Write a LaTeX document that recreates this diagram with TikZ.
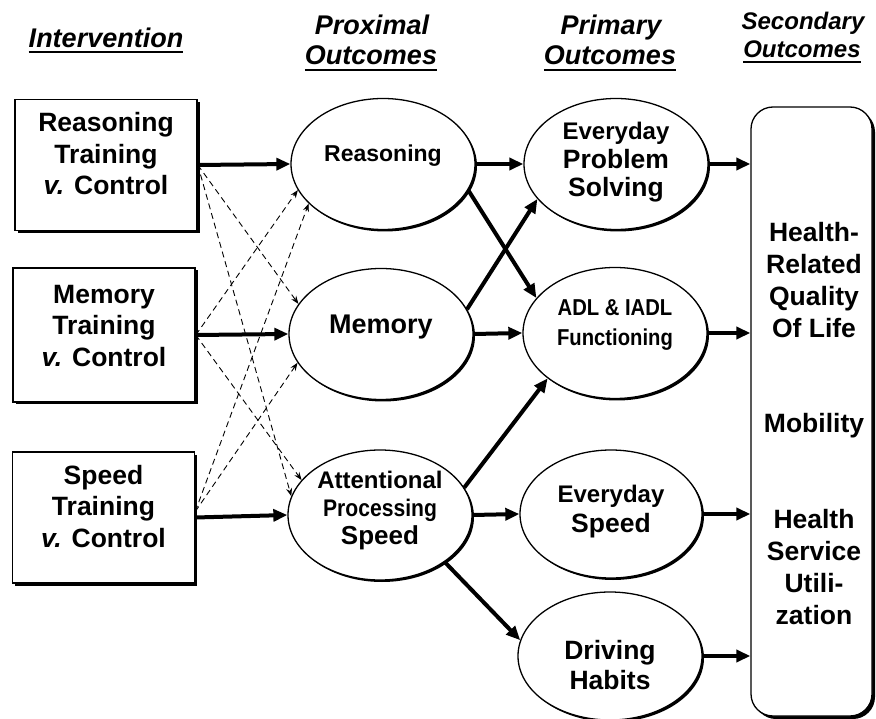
\documentclass[tikz,border=0pt]{standalone}
\usepackage{fontspec}
\setmainfont{Liberation Sans}
\newfontfamily\condfont{Liberation Sans}[FakeStretch=0.88]
\usetikzlibrary{arrows.meta,shapes.geometric,shadows,calc}
\begin{document}
\begin{tikzpicture}[x=1pt,y=-1pt,
  ibox/.style={draw, line width=1.6pt, fill=white, minimum width=182pt, minimum height=131pt, inner sep=0pt,
    drop shadow={shadow xshift=2.5pt,shadow yshift=-2.5pt,fill=black,opacity=1}},
  itext/.style={font=\bfseries\fontsize{26.5}{31.5}\selectfont, align=center, inner sep=0pt},
  oval/.style={ellipse, draw, line width=1.3pt, fill=white, minimum width=184pt, minimum height=131pt, inner sep=0pt,
    drop shadow={shadow xshift=2pt,shadow yshift=-2pt,fill=black,opacity=1}},
  otext/.style={font=\bfseries\fontsize{26.5}{30}\selectfont, align=center, inner sep=0pt},
  bigbox/.style={draw, line width=1.3pt, fill=white, rounded corners=22pt, minimum width=121pt, minimum height=609pt, inner sep=0pt,
    drop shadow={shadow xshift=3pt,shadow yshift=-3pt,fill=black,opacity=1}},
  btext/.style={font=\bfseries\fontsize{26.5}{32}\selectfont, align=center, inner sep=0pt},
  hdr/.style={font=\bfseries\itshape\fontsize{27}{30}\selectfont, inner sep=0pt, anchor=base},
  hdrs/.style={font=\bfseries\itshape\fontsize{24}{28}\selectfont, inner sep=0pt, anchor=base},
  ul/.style={line width=2.2pt},
  parr/.style={line width=4pt, -{Triangle[length=14pt,width=12pt]}},
  darr/.style={line width=0.9pt, dash pattern=on 6pt off 4pt, -{Stealth[length=8pt,width=6pt]}}
]
\useasboundingbox (0,0) rectangle (876,719);

% headers
\node[hdr] (hi) at (106,48) {Intervention};
\draw[ul] ([yshift=-4pt]hi.base west) -- ([yshift=-4pt]hi.base east);
\node[hdr] (hp1) at (372,35) {Proximal};
\node[hdr] (hp2) at (371,65) {Outcomes};
\draw[ul] ([yshift=-5pt]hp2.base west) -- ([yshift=-5pt]hp2.base east);
\node[hdr] (hq1) at (611,35) {Primary};
\node[hdr] (hq2) at (610,65) {Outcomes};
\draw[ul] ([yshift=-5pt]hq2.base west) -- ([yshift=-5pt]hq2.base east);
\node[hdrs] (hs1) at (803,30) {Secondary};
\node[hdrs] (hs2) at (802,58) {Outcomes};
\draw[ul] ([yshift=-4pt]hs2.base west) -- ([yshift=-4pt]hs2.base east);

% intervention boxes
\node[ibox, label={[itext,yshift=11pt]center:{Reasoning\\Training\\\textit{v.} Control}}] (rb) at (106,165) {};
\node[ibox, minimum height=134pt, label={[itext,yshift=9pt]center:{Memory\\Training\\\textit{v.} Control}}] (mb) at (104,335) {};
\node[ibox, label={[itext,yshift=11pt]center:{Speed\\Training\\\textit{v.} Control}}] (sb) at (103.5,517.5) {};

% proximal outcomes
\node[oval, label={[otext,yshift=8pt,font=\bfseries\fontsize{23}{28}\selectfont]center:{Reasoning}}] (rell) at (383,164) {};
\node[oval, label={[otext,yshift=6.5pt,font=\bfseries\fontsize{27}{30}\selectfont]center:{Memory}}] (mell) at (381,334) {};
\node[oval, minimum height=130pt, label={[otext,yshift=4pt,font=\bfseries\fontsize{26}{28}\selectfont]center:{{\fontsize{24}{28}\selectfont Attentional}\\{\condfont\bfseries\fontsize{24}{28}\selectfont Processing}\\Speed}}] (aell) at (380,515) {};

% primary outcomes
\node[oval, label={[otext,yshift=1.5pt,font=\bfseries\fontsize{26.5}{28.5}\selectfont]center:{{\fontsize{24}{28.5}\selectfont Everyday}\\Problem\\Solving}}] (eps) at (616,164) {};
\node[oval, label={[otext,yshift=8pt,font=\condfont\bfseries\fontsize{23}{30}\selectfont]center:{ADL \& IADL\\Functioning}}] (adl) at (615,333) {};
\node[oval, minimum width=182pt, minimum height=128pt, label={[otext,yshift=2pt]center:{{\fontsize{24}{30}\selectfont Everyday}\\Speed}}] (es) at (611,514) {};
\node[oval, minimum height=128pt, label={[otext,yshift=-9pt]center:{Driving\\Habits}}] (drv) at (610,656) {};

% secondary outcomes
\node[bigbox] (big) at (811.5,411.5) {};
\node[btext] (hrq) at (814,280) {Health-\\Related\\Quality\\Of Life};
\node[btext] (mob) at (814,426) {Mobility};
\node[btext] (hsu) at (814,567.5) {Health\\Service\\Utili-\\zation};

% intervention -> proximal (solid)
\draw[parr] (rb.east) -- (rell.west);
\draw[parr] (mb.east) -- (mell.west);
\draw[parr] (sb.east) -- (aell.west);

% intervention -> proximal (dashed)
\draw[darr] (rb.east) -- (mell.160);
\draw[darr] (rb.east) -- (aell.168);
\draw[darr] (mb.east) -- (rell.197);
\draw[darr] (mb.east) -- (aell.156);
\draw[darr] ([yshift=6pt]sb.east) -- (rell.208);
\draw[darr] ([yshift=6pt]sb.east) -- (mell.199);

% proximal -> primary
\draw[parr] (rell.east) -- (eps.west);
\draw[parr] (rell.-17) -- (adl.156);
\draw[parr] (mell.16) -- (eps.204);
\draw[parr] (mell.east) -- (adl.west);
\draw[parr] (aell.18) -- (adl.214);
\draw[parr] (aell.east) -- (es.west);
\draw[parr] (aell.-36) -- (drv.170);

% primary -> secondary
\draw[parr] (eps.east) -- (eps.east -| big.west);
\draw[parr] (adl.east) -- (adl.east -| big.west);
\draw[parr] (es.east) -- (es.east -| big.west);
\draw[parr] (drv.east) -- (drv.east -| big.west);
\end{tikzpicture}
\end{document}
